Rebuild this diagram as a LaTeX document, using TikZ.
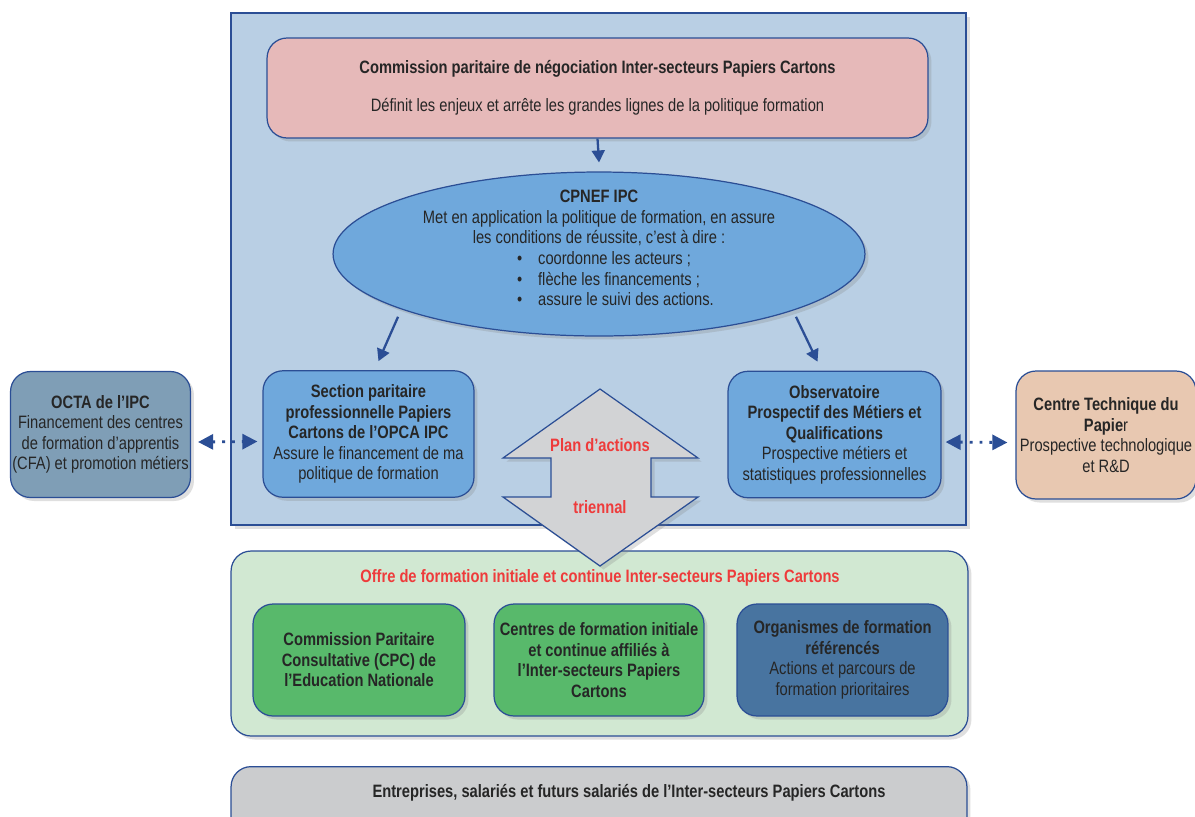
\documentclass[tikz,border=0pt]{standalone}
\usepackage{fontspec}
\setmainfont[FakeStretch=0.82]{Liberation Sans}
\usetikzlibrary{arrows.meta,shapes.geometric,shadows}
\definecolor{pcLine}{HTML}{2B4E95}
\definecolor{pcText}{HTML}{262626}
\definecolor{pcRed}{HTML}{EE3B3B}
\definecolor{pcFrame}{HTML}{B9CFE4}
\definecolor{pcPink}{HTML}{E6B9B9}
\definecolor{pcBlue}{HTML}{6FA8DC}
\definecolor{pcSlate}{HTML}{7F9EB6}
\definecolor{pcPeach}{HTML}{E8C8B1}
\definecolor{pcGray}{HTML}{D2D3D5}
\definecolor{pcGrayBg}{HTML}{CBCCCE}
\definecolor{pcGreenBg}{HTML}{D1E8D2}
\definecolor{pcGreen}{HTML}{58B96B}
\definecolor{pcNavy}{HTML}{4874A0}

\begin{document}
\begin{tikzpicture}[
  x=0.02cm, y=-0.02cm, font=\fontsize{10.2}{11.7}\selectfont, text=pcText,
  shade/.style  ={drop shadow={opacity=0.25, shadow xshift=0.07cm, shadow yshift=-0.07cm}},
  box/.style    ={draw=pcLine, line width=0.7pt, rounded corners=0.4cm, align=center, inner sep=1pt, shade},
  pinkbox/.style={box, fill=pcPink, minimum width=13.22cm, minimum height=2cm},
  bluebox/.style={box, fill=pcBlue, minimum height=2.53cm},
  sidebox/.style={box, minimum height=2.52cm},
  offbox/.style ={box, minimum width=4.22cm, minimum height=2.24cm},
  hdr/.style    ={font=\fontsize{10.2}{11.7}\selectfont\bfseries, text=pcRed},
  arr/.style    ={draw=pcLine, line width=1.3pt, -{Triangle[length=0.24cm, width=0.26cm]}},
  dotarr/.style ={draw=pcLine, line width=1.6pt, dash pattern=on 1.6pt off 4pt,
                  {Triangle[length=0.3cm, width=0.3cm]}-{Triangle[length=0.3cm, width=0.3cm]}}]
  \path[use as bounding box, fill=white] (0,0) rectangle (1195,816);
  \draw[draw=pcLine, line width=0.7pt, fill=pcFrame, shade] (231,13) rectangle (966,525);
  \node[pinkbox] (commission) at (597.5,88)
    {\textbf{Commission paritaire de négociation Inter-secteurs Papiers Cartons}\\[10pt]
     Définit les enjeux et arrête les grandes lignes de la politique formation};
  \node[ellipse, draw=pcLine, line width=0.7pt, fill=pcBlue, shade,
        minimum width=10.64cm, minimum height=3.28cm] (cpnef) at (599,254) {};
  \node[align=center] (cpnefText) at (599,248)
    {\textbf{CPNEF IPC}\\
     Met en application la politique de formation, en assure\\
     les conditions de réussite, c’est à dire :\\
     \makebox[3.28cm][l]{\textbullet\hspace{0.32cm}coordonne les acteurs ;}\\
     \makebox[3.28cm][l]{\textbullet\hspace{0.32cm}flèche les financements ;}\\
     \makebox[3.28cm][l]{\textbullet\hspace{0.32cm}assure le suivi des actions.}};
  \node[bluebox, minimum width=4.22cm] (section) at (368.5,434)
    {\textbf{Section paritaire}\\\textbf{professionnelle Papiers}\\\textbf{Cartons de l’OPCA IPC}\\
     Assure le financement de ma\\politique de formation};
  \node[bluebox, minimum width=4.26cm] (observ) at (834.5,434.5)
    {\textbf{Observatoire}\\\textbf{Prospectif des Métiers et}\\\textbf{Qualifications}\\
     Prospective métiers et\\statistiques professionnelles};
  \node[sidebox, fill=pcSlate, minimum width=3.58cm] (octa) at (100.5,434.5)
    {\textbf{OCTA de l’IPC}\\Financement des centres\\de formation d’apprentis\\(CFA) et promotion métiers};
  \node[sidebox, fill=pcPeach, minimum width=3.6cm, minimum height=2.56cm] (ctp) at (1106,435)
    {\textbf{Centre Technique du}\\\textbf{Papie}r\\Prospective technologique\\et R\&D};
  \draw[arr] (commission.south) -- ([yshift=0.18cm]cpnef.north);
  \draw[arr] ([xshift=-0.34cm, yshift=-0.06cm]cpnef.198) -- ([xshift=0.2cm, yshift=0.18cm]section.north);
  \draw[arr] ([xshift=0.26cm, yshift=-0.06cm]cpnef.342) -- ([xshift=-0.34cm, yshift=0.18cm]observ.north);
  \draw[dotarr] ([xshift=0.14cm, yshift=-0.15cm]octa.east) -- ([xshift=-0.1cm, yshift=-0.15cm]section.west);
  \draw[dotarr] ([xshift=0.08cm, yshift=-0.15cm]observ.east) -- ([xshift=-0.16cm, yshift=-0.15cm]ctp.west);
  \node[box, fill=pcGreenBg, minimum width=14.74cm, minimum height=3.7cm] (offre) at (599.5,643.5) {};
  \node[hdr] (offreTitle) at (600,578) {Offre de formation initiale et continue Inter-secteurs Papiers Cartons};
  \node[offbox, fill=pcGreen, minimum width=4.24cm] (cpc) at (359,660)
    {\textbf{Commission Paritaire}\\\textbf{Consultative (CPC) de}\\\textbf{l’Education Nationale}};
  \node[offbox, fill=pcGreen, minimum width=4.2cm] (centres) at (599,660)
    {\textbf{Centres de formation initiale}\\\textbf{et continue affiliés à}\\\textbf{l’Inter-secteurs Papiers}\\\textbf{Cartons}};
  \node[offbox, fill=pcNavy] (organismes) at (842.5,660)
    {\textbf{Organismes de formation}\\\textbf{référencés}\\Actions et parcours de\\formation prioritaires};
  \draw[draw=pcLine, line width=0.7pt, fill=pcGray, shade]
    (600,389) -- (698,458) -- (651,458) -- (651,497) -- (698,497) -- (600,566)
    -- (503,497) -- (551,497) -- (551,458) -- (503,458) -- cycle;
  \node[hdr] (planTop) at (600,445) {Plan d’actions};
  \node[hdr] (planBottom) at (600,507) {triennal};
  \node[box, fill=pcGrayBg, anchor=north, minimum width=14.72cm, minimum height=1.8cm] (entreprises) at (599,766) {};
  \node[font=\fontsize{10.2}{11.7}\selectfont\bfseries] (entreprisesText) at (629,793)
    {Entreprises, salariés et futurs salariés de l’Inter-secteurs Papiers Cartons};
\end{tikzpicture}
\end{document}
